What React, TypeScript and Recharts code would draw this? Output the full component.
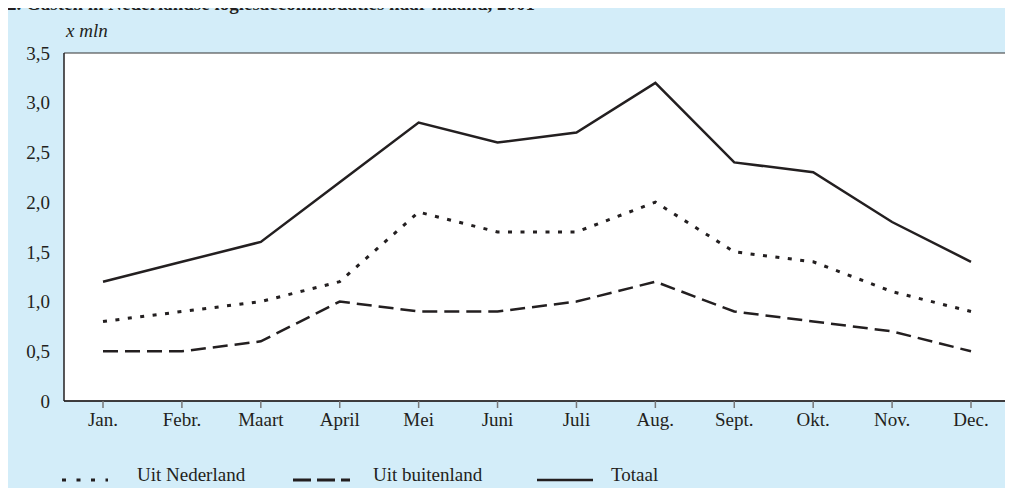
import { LineChart, Line, XAxis, YAxis, CartesianGrid } from 'recharts';

const months = ['Jan.', 'Febr.', 'Maart', 'April', 'Mei', 'Juni', 'Juli', 'Aug.', 'Sept.', 'Okt.', 'Nov.', 'Dec.'];
const uitNederland = [0.8, 0.9, 1.0, 1.2, 1.9, 1.7, 1.7, 2.0, 1.5, 1.4, 1.1, 0.9];
const uitBuitenland = [0.5, 0.5, 0.6, 1.0, 0.9, 0.9, 1.0, 1.2, 0.9, 0.8, 0.7, 0.5];
const totaal = [1.2, 1.4, 1.6, 2.2, 2.8, 2.6, 2.7, 3.2, 2.4, 2.3, 1.8, 1.4];
const yTicks = [0, 0.5, 1, 1.5, 2, 2.5, 3, 3.5];

const title = '2. Gasten in Nederlandse logiesaccommodaties naar maand, 2001';
const unitLabel = 'x mln';

const data = months.map((m, i) => ({
  month: m,
  nl: uitNederland[i],
  bu: uitBuitenland[i],
  tot: totaal[i],
}));

const font = '"Liberation Serif", "Times New Roman", serif';
const ink = '#231f20';

const fmt = (v: number) => (v === 0 ? '0' : v.toFixed(1).replace('.', ','));

const legendItems = [
  { name: 'Uit Nederland', dash: '4 10.5', width: 3, x1: 54, x2: 100, tx: 129 },
  { name: 'Uit buitenland', dash: '18 6', width: 3, x1: 285, x2: 342, tx: 365 },
  { name: 'Totaal', dash: undefined, width: 2.5, x1: 529, x2: 585, tx: 603 },
];

export default function App() {
  return (
    <div
      style={{
        position: 'relative',
        width: 1005,
        height: 480,
        background: '#d3edf9',
        fontFamily: font,
      }}
    >
      <div
        style={{
          position: 'absolute',
          left: -1,
          top: -14,
          fontSize: 19,
          lineHeight: '19px',
          fontWeight: 'bold',
          color: ink,
          whiteSpace: 'nowrap',
        }}
      >
        {title}
      </div>
      <div
        style={{
          position: 'absolute',
          left: 58,
          top: 13,
          fontSize: 19,
          lineHeight: '19px',
          fontStyle: 'italic',
          color: ink,
        }}
      >
        {unitLabel}
      </div>
      <LineChart
        width={1005}
        height={480}
        data={data}
        margin={{ top: 45, right: 2, left: 0, bottom: 57 }}
      >
        <CartesianGrid vertical={false} stroke="#333" fill="#fff" />
        <XAxis
          dataKey="month"
          height={30}
          padding={{ left: 39, right: 39 }}
          axisLine={{ stroke: ink, strokeWidth: 1.5 }}
          tickLine={{ stroke: '#777', strokeWidth: 1.5 }}
          tickSize={7}
          tickMargin={5}
          tick={{ fill: ink, fontSize: 19, fontFamily: font }}
          interval={0}
        />
        <YAxis
          yAxisId="l"
          width={56}
          domain={[0, 3.5]}
          ticks={yTicks}
          tickFormatter={fmt}
          axisLine={{ stroke: ink, strokeWidth: 1.5 }}
          tickLine={false}
          tickSize={0}
          tickMargin={14}
          tick={{ fill: ink, fontSize: 19, fontFamily: font }}
        />
        <YAxis
          yAxisId="r"
          orientation="right"
          width={1}
          domain={[0, 3.5]}
          ticks={yTicks}
          tick={false}
          tickLine={false}
          axisLine={{ stroke: '#888', strokeWidth: 2 }}
        />
        <Line
          yAxisId="l"
          dataKey="nl"
          stroke={ink}
          strokeWidth={3}
          strokeDasharray="4 8.5"
          dot={false}
          isAnimationActive={false}
        />
        <Line
          yAxisId="l"
          dataKey="bu"
          stroke={ink}
          strokeWidth={2.5}
          strokeDasharray="15 7"
          dot={false}
          isAnimationActive={false}
        />
        <Line
          yAxisId="l"
          dataKey="tot"
          stroke={ink}
          strokeWidth={2.5}
          dot={false}
          isAnimationActive={false}
        />
      </LineChart>
      <svg
        width={1005}
        height={480}
        style={{ position: 'absolute', left: 0, top: 0, pointerEvents: 'none' }}
      >
        {legendItems.map((it) => (
          <g key={it.name}>
            <line
              x1={it.x1}
              x2={it.x2}
              y1={472}
              y2={472}
              stroke={ink}
              strokeWidth={it.width}
              strokeDasharray={it.dash}
            />
            <text x={it.tx} y={473} fontSize={19} fontFamily={font} fill={ink}>
              {it.name}
            </text>
          </g>
        ))}
      </svg>
    </div>
  );
}
